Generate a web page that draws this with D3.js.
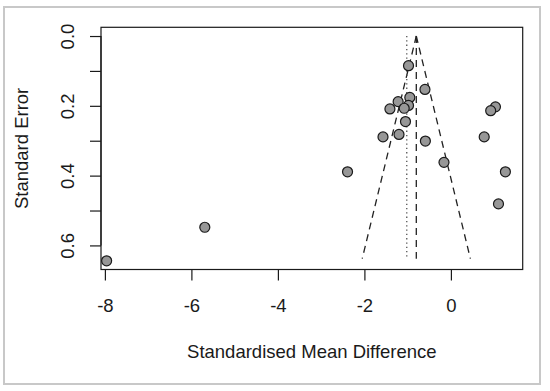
<!DOCTYPE html>
<html>
<head>
<meta charset="utf-8">
<script src="https://cdn.jsdelivr.net/npm/d3@7"></script>
<style>
  body { margin: 0; background: #fff; }
  text { font-family: "Liberation Sans", Arial, sans-serif; fill: #1a1a1a; }
</style>
</head>
<body>
<svg class="funnel" width="550" height="391"></svg>
<script>
const WIDTH = 550;
const HEIGHT = 391;
const FONT = 18.5;

// study estimates
const smd = [-0.98, -0.60, -0.95, -1.22, -0.98, -1.08, -1.41, -1.05, -1.20, -1.57,
  -0.59, 1.03, 0.92, 0.77, -0.16, -2.39, 1.26, 1.10, -5.69, -7.96];
const se = [0.085, 0.153, 0.176, 0.188, 0.199, 0.207, 0.209, 0.245, 0.282, 0.289,
  0.301, 0.203, 0.214, 0.289, 0.362, 0.389, 0.389, 0.481, 0.548, 0.644];

const xTicks = [-8, -6, -4, -2, 0];
const yTicks = [0, 0.1, 0.2, 0.3, 0.4, 0.5, 0.6];
const yLabelled = [0, 0.2, 0.4, 0.6];

const pooled = -0.80;     // dashed centre line / funnel apex
const dotted = -1.02;     // dotted reference line
const seMax = 0.638;      // bottom of funnel

const box = { left: 101, right: 522.7, top: 27.3, bottom: 269.5 };

const x = d3.scaleLinear().domain([-8.09, 1.66]).range([box.left, box.right]);
const y = d3.scaleLinear().domain([-0.025, 0.669]).range([box.top, box.bottom]);

const svg = d3.select('.funnel');

// outer light frame
svg.append('rect')
  .attr('x', 4).attr('y', 7)
  .attr('width', 536).attr('height', 377)
  .style('fill', 'none')
  .style('stroke', '#c8c8c8')
  .style('stroke-width', 2);

// funnel lines
const funnel = [
  [[pooled, 0], [pooled - 1.96 * seMax, seMax]],
  [[pooled, 0], [pooled + 1.96 * seMax, seMax]],
];
svg.selectAll('.funnel-line')
  .data(funnel)
  .enter().append('line')
  .attr('class', 'funnel-line')
  .attr('x1', (d) => x(d[0][0]))
  .attr('y1', (d) => y(d[0][1]))
  .attr('x2', (d) => x(d[1][0]))
  .attr('y2', (d) => y(d[1][1]))
  .style('stroke', '#222')
  .style('stroke-width', 1.3)
  .style('stroke-dasharray', '7,5');

svg.append('line')
  .attr('x1', x(pooled)).attr('x2', x(pooled))
  .attr('y1', y(0)).attr('y2', y(seMax))
  .style('stroke', '#222')
  .style('stroke-width', 1.3)
  .style('stroke-dasharray', '7,5');

svg.append('line')
  .attr('x1', x(dotted)).attr('x2', x(dotted))
  .attr('y1', y(0)).attr('y2', y(seMax))
  .style('stroke', '#444')
  .style('stroke-width', 1.2)
  .style('stroke-dasharray', '1.3,3');

// points
svg.selectAll('.pt')
  .data(smd.map((d, i) => ({ smd: d, se: se[i] })))
  .enter().append('circle')
  .attr('class', 'pt')
  .attr('cx', (d) => x(d.smd))
  .attr('cy', (d) => y(d.se))
  .attr('r', 5)
  .style('fill', '#979797')
  .style('stroke', '#1a1a1a')
  .style('stroke-width', 1.2);

// plot box
svg.append('rect')
  .attr('x', box.left).attr('y', box.top)
  .attr('width', box.right - box.left)
  .attr('height', box.bottom - box.top)
  .style('fill', 'none')
  .style('stroke', '#1a1a1a')
  .style('stroke-width', 1.2);

// x axis
const xAxis = svg.append('g')
  .attr('transform', `translate(0,${box.bottom})`)
  .call(d3.axisBottom(x).tickValues(xTicks).tickSize(11).tickPadding(18.4)
    .tickFormat((d) => d3.format('d')(d).replace('−', '-')));
xAxis.select('.domain').remove();
xAxis.append('line')
  .attr('x1', x(xTicks[0])).attr('x2', x(xTicks[xTicks.length - 1]))
  .style('stroke', '#1a1a1a').style('stroke-width', 1.2);
xAxis.selectAll('.tick line').style('stroke', '#1a1a1a').style('stroke-width', 1.2);
xAxis.selectAll('text')
  .style('font-size', `${FONT}px`)
  .style('font-family', '"Liberation Sans", Arial, sans-serif')
  .attr('fill', '#1a1a1a');

// y axis
const yAxis = svg.append('g')
  .attr('transform', `translate(${box.left},0)`)
  .call(d3.axisLeft(y).tickValues(yTicks).tickSize(11)
    .tickFormat((d) => (yLabelled.includes(d) ? d3.format('.1f')(d) : '')));
yAxis.select('.domain').remove();
yAxis.append('line')
  .attr('y1', y(yTicks[0])).attr('y2', y(yTicks[yTicks.length - 1]))
  .style('stroke', '#1a1a1a').style('stroke-width', 1.2);
yAxis.selectAll('.tick line').style('stroke', '#1a1a1a').style('stroke-width', 1.2);
yAxis.selectAll('text')
  .attr('x', 0)
  .attr('y', -(box.left - 74))
  .attr('dy', 0)
  .attr('transform', 'rotate(-90)')
  .attr('text-anchor', 'middle')
  .attr('fill', '#1a1a1a')
  .style('font-size', `${FONT}px`)
  .style('font-family', '"Liberation Sans", Arial, sans-serif');

// axis titles
svg.append('text')
  .attr('x', (box.left + box.right) / 2)
  .attr('y', 358)
  .attr('text-anchor', 'middle')
  .style('font-size', `${FONT}px`)
  .text('Standardised Mean Difference');

svg.append('text')
  .attr('transform', `translate(28,${(box.top + box.bottom) / 2}) rotate(-90)`)
  .attr('text-anchor', 'middle')
  .style('font-size', `${FONT}px`)
  .text('Standard Error');
</script>
</body>
</html>
